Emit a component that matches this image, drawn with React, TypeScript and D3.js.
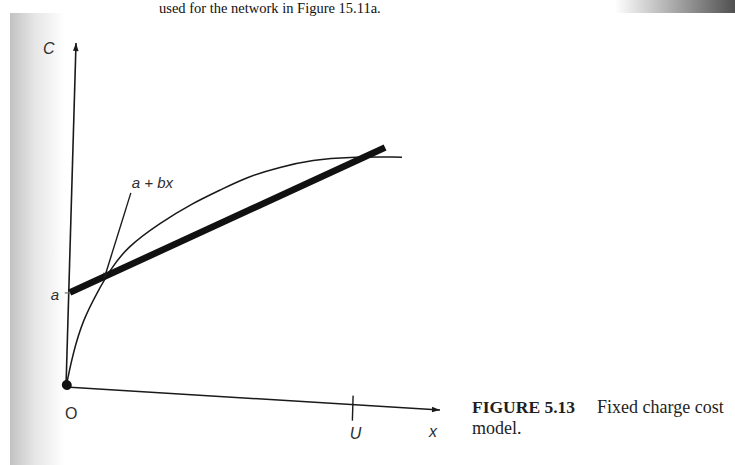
import * as d3 from 'd3';
import { useEffect, useRef } from 'react';

const width = 735;
const height = 465;

// concave cost curve (axis units 0..10)
const curveX = [0, 0.16, 0.4, 0.75, 1.08, 1.52, 2.38, 3.25, 3.96, 4.67, 5.54, 6.42, 7.32, 8.79];
const curveY = [0, 1.0, 1.97, 2.78, 3.47, 4.17, 4.93, 5.57, 5.99, 6.42, 6.77, 7.03, 7.18, 7.27];

// linear approximation a + bx
const lineX = [0.03, 8.33];
const intercept = 2.73;
const slope = 0.575;

// pointer from the label to the line
const pointerX = [1.58, 0.93];
const pointerY = [5.75, 3.2];

const capacityU = 7.67;
const axisMax = 10;

const App = () => {
  const ref = useRef<SVGSVGElement>(null);

  useEffect(() => {
    const svg = d3.select(ref.current);
    svg.selectAll('*').remove();

    const defs = svg.append('defs');
    const shadow = defs
      .append('linearGradient')
      .attr('id', 'leftShade')
      .attr('x1', 0)
      .attr('x2', 1);
    shadow.append('stop').attr('offset', 0).attr('stop-color', '#c2c2c2');
    shadow.append('stop').attr('offset', 0.45).attr('stop-color', '#e6e6e6');
    shadow.append('stop').attr('offset', 1).attr('stop-color', '#ffffff');

    const corner = defs
      .append('linearGradient')
      .attr('id', 'cornerShade')
      .attr('x1', 0)
      .attr('x2', 1);
    corner.append('stop').attr('offset', 0).attr('stop-color', '#ffffff');
    corner.append('stop').attr('offset', 1).attr('stop-color', '#505050');

    defs
      .append('marker')
      .attr('id', 'head')
      .attr('viewBox', '0 0 10 10')
      .attr('refX', 10)
      .attr('refY', 5)
      .attr('markerWidth', 16)
      .attr('markerHeight', 8)
      .attr('markerUnits', 'userSpaceOnUse')
      .attr('orient', 'auto')
      .append('path')
      .attr('d', 'M0,1.5L10,5L0,8.5Z')
      .attr('fill', '#1a1a1a');

    defs
      .append('marker')
      .attr('id', 'smallHead')
      .attr('viewBox', '0 0 10 10')
      .attr('refX', 10)
      .attr('refY', 5)
      .attr('markerWidth', 11)
      .attr('markerHeight', 6)
      .attr('markerUnits', 'userSpaceOnUse')
      .attr('orient', 'auto')
      .append('path')
      .attr('d', 'M0,1L10,5L0,9Z')
      .attr('fill', '#1a1a1a');

    // scanned page background
    svg.append('rect').attr('width', width).attr('height', height).attr('fill', '#fff');
    svg
      .append('rect')
      .attr('x', 10)
      .attr('y', 13)
      .attr('width', 55)
      .attr('height', height - 13)
      .attr('fill', 'url(#leftShade)');
    svg
      .append('rect')
      .attr('x', 615)
      .attr('y', 0)
      .attr('width', 120)
      .attr('height', 13)
      .attr('fill', 'url(#cornerShade)');

    svg
      .append('text')
      .attr('x', 159)
      .attr('y', 13)
      .attr('font-family', 'Liberation Serif, serif')
      .attr('font-size', 14.5)
      .attr('fill', '#111')
      .text('used for the network in Figure 15.11a.');

    // the scan is slightly rotated/sheared, so the plot frame is affine
    const xs = d3.scaleLinear().domain([0, axisMax]).range([0, 374.7]);
    const ys = d3.scaleLinear().domain([0, axisMax]).range([0, -344.1]);
    const m = [0.9981, 0.0614, -0.0291, 0.9996, 66, 387];
    const toPx = (x: number, y: number) => [
      m[0] * xs(x) + m[2] * ys(y) + m[4],
      m[1] * xs(x) + m[3] * ys(y) + m[5],
    ];

    const g = svg.append('g').attr('transform', `matrix(${m.join(',')})`);

    // axes
    g.append('line')
      .attr('x1', xs(0))
      .attr('y1', ys(0))
      .attr('x2', xs(0))
      .attr('y2', ys(axisMax))
      .attr('stroke', '#1a1a1a')
      .attr('stroke-width', 1.6)
      .attr('marker-end', 'url(#head)');
    g.append('line')
      .attr('x1', xs(0))
      .attr('y1', ys(0))
      .attr('x2', xs(axisMax))
      .attr('y2', ys(0))
      .attr('stroke', '#1a1a1a')
      .attr('stroke-width', 1.6)
      .attr('marker-end', 'url(#head)');

    // U tick
    g.append('line')
      .attr('x1', xs(capacityU))
      .attr('x2', xs(capacityU))
      .attr('y1', ys(0) - 9)
      .attr('y2', ys(0) + 16)
      .attr('stroke', '#1a1a1a')
      .attr('stroke-width', 1.4);

    // a tick
    g.append('line')
      .attr('x1', xs(0) - 4)
      .attr('x2', xs(0) + 2)
      .attr('y1', ys(intercept))
      .attr('y2', ys(intercept))
      .attr('stroke', '#777')
      .attr('stroke-width', 1.2);

    // cost curve
    const curve = d3
      .line<number>()
      .x((d, i) => xs(curveX[i]))
      .y((d) => ys(d))
      .curve(d3.curveBasis);
    g.append('path')
      .attr('d', curve(curveY))
      .attr('fill', 'none')
      .attr('stroke', '#1a1a1a')
      .attr('stroke-width', 1.5);

    // linear approximation
    g.append('line')
      .attr('x1', xs(lineX[0]))
      .attr('y1', ys(intercept + slope * lineX[0]))
      .attr('x2', xs(lineX[1]))
      .attr('y2', ys(intercept + slope * lineX[1]))
      .attr('stroke', '#111')
      .attr('stroke-width', 6.5);

    // pointer
    g.append('line')
      .attr('x1', xs(pointerX[0]))
      .attr('y1', ys(pointerY[0]))
      .attr('x2', xs(pointerX[1]))
      .attr('y2', ys(pointerY[1]))
      .attr('stroke', '#1a1a1a')
      .attr('stroke-width', 1.4)
      .attr('marker-end', 'url(#smallHead)');

    // dot at the origin
    g.append('circle')
      .attr('cx', xs(0.02))
      .attr('cy', ys(0.06))
      .attr('r', 5)
      .attr('fill', '#111');

    const label = (x: number, y: number, txt: string, size: number, italic = true) =>
      svg
        .append('text')
        .attr('x', x)
        .attr('y', y)
        .attr('font-family', 'Liberation Sans, Arial, sans-serif')
        .attr('font-style', italic ? 'italic' : 'normal')
        .attr('font-size', size)
        .attr('fill', '#2e2e2e')
        .text(txt);

    const [cx, cy] = toPx(0, axisMax);
    label(cx - 33, cy + 11, 'C', 16);
    const [ax, ay] = toPx(0, intercept);
    label(ax - 18, ay + 7, 'a', 15);
    label(65, 419, 'O', 16, false);
    const [ux, uy] = toPx(capacityU, 0);
    label(ux - 3, uy + 34, 'U', 16);
    const [xx, xy] = toPx(axisMax, 0);
    label(xx - 11, xy + 27, 'x', 16);
    const [px, py] = toPx(pointerX[0], pointerY[0]);
    label(px + 1, py - 5, 'a + bx', 15);

    // caption
    const cap = svg
      .append('text')
      .attr('x', 472)
      .attr('y', 413)
      .attr('font-family', 'Liberation Serif, serif')
      .attr('font-size', 18)
      .attr('fill', '#1e1e1e');
    cap.append('tspan').attr('font-weight', 'bold').attr('font-size', 17.5).text('FIGURE 5.13');
    cap.append('tspan').attr('x', 597).text('Fixed charge cost');
    svg
      .append('text')
      .attr('x', 472)
      .attr('y', 434)
      .attr('font-family', 'Liberation Serif, serif')
      .attr('font-size', 18)
      .attr('fill', '#1e1e1e')
      .text('model.');
  }, []);

  return (
    <svg
      ref={ref}
      width={width}
      height={height}
      style={{ position: 'absolute', left: 0, top: 0, display: 'block' }}
    />
  );
};

export default App;
